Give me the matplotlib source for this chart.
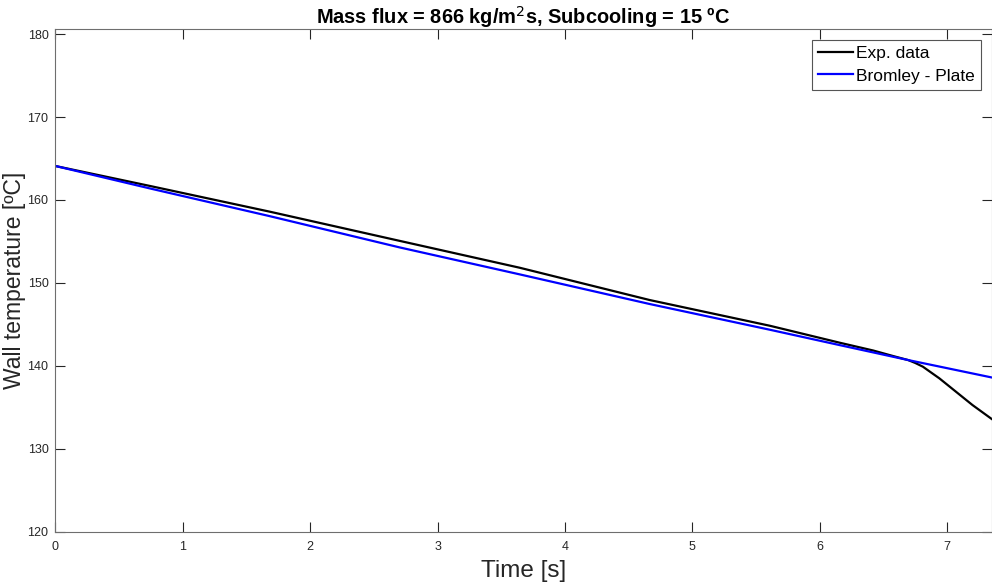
import matplotlib
matplotlib.use("Agg")
import matplotlib.pyplot as plt

plt.rcParams['font.family'] = ['Liberation Sans', 'DejaVu Sans']

# Measured wall temperature (experiment)
exp_time = [0.0, 0.74, 1.68, 2.70, 3.645, 4.667, 5.61, 6.157, 6.42, 6.577,
            6.694, 6.75, 6.81, 6.94, 7.07, 7.2, 7.35]
exp_temp = [164.1, 161.7, 158.6, 155.08, 151.83, 147.93, 144.83, 142.79, 141.85, 141.18,
            140.7, 140.35, 139.9, 138.49, 136.88, 135.27, 133.6]

# Bromley correlation, plate geometry
model_time = [0.0, 0.74, 1.68, 2.70, 3.645, 4.667, 5.61, 6.157, 6.694, 7.35]
model_temp = [164.1, 161.4, 158.06, 154.29, 151.03, 147.45, 144.35, 142.5, 140.7, 138.6]

x_ticks = [0, 1, 2, 3, 4, 5, 6, 7]
y_ticks = [120, 130, 140, 150, 160, 170, 180]

fig = plt.figure(figsize=(9.92, 5.84), dpi=100)
ax = fig.add_axes([0.0559, 0.0896, 0.9437, 0.860])

ax.plot(exp_time, exp_temp, color='black', lw=1.6, label='Exp. data')
ax.plot(model_time, model_temp, color='#0000ff', lw=1.6, label='Bromley - Plate')

ax.set_xlim(0, 7.35)
ax.set_ylim(120, 180.57)
ax.set_xticks(x_ticks)
ax.set_yticks(y_ticks)

axis_col = '#262626'
for s in ax.spines.values():
    s.set_color('#6e6e6e')
    s.set_linewidth(0.8)
ax.tick_params(direction='in', length=7, width=0.8, color=axis_col,
               labelsize=9, labelcolor=axis_col, top=True, right=True, pad=5)
ax.tick_params(axis='x', pad=6.5)

ax.set_xlabel('Time [s]', fontsize=17.5, color=axis_col, labelpad=5)
ax.set_ylabel('Wall temperature [ºC]', fontsize=16.5, color=axis_col, labelpad=1)
ax.set_title('Mass flux = 866 kg/m$^2$s, Subcooling = 15 ºC', fontsize=14.4,
             fontweight='bold', pad=4)

leg = ax.legend(loc='upper right', fontsize=12.5, frameon=True, fancybox=False,
                framealpha=1, edgecolor='#555555', handlelength=2.0,
                handletextpad=0.2, borderpad=0.35, labelspacing=0.42,
                borderaxespad=0.6)
leg.get_frame().set_linewidth(0.8)

fig.savefig('out.png', dpi=100)
